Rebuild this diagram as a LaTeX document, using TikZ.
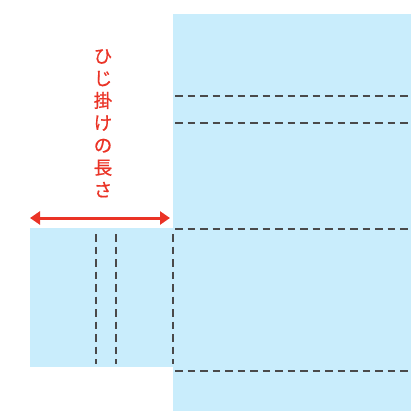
\documentclass[tikz,border=0pt]{standalone}
\usepackage{fontspec}
\newfontfamily\cjk[FakeBold=0.7]{Noto Sans CJK JP}
\usetikzlibrary{arrows.meta}
\definecolor{panel}{HTML}{C9EDFC}
\definecolor{dashc}{HTML}{4A4A4A}
\definecolor{redc}{HTML}{EA3326}
\tikzset{
  panelbox/.style={fill=panel, draw=none},
  fold/.style={draw=dashc, line width=1.4pt, dash pattern=on 7.5pt off 5pt},
  measure/.style={draw=redc, line width=3pt, {Triangle[length=10pt,width=13pt]}-{Triangle[length=10pt,width=13pt]}},
}
\begin{document}
\begin{tikzpicture}[x=1pt,y=-1pt]
\useasboundingbox (0,0) rectangle (411,411);
\path[panelbox] (173,14) rectangle (411,411);
\path[panelbox] (30,228) rectangle (173,367);
\coordinate (h1a) at (175,96);  \coordinate (h1b) at (409,96);
\coordinate (h2a) at (175,123); \coordinate (h2b) at (409,123);
\coordinate (h3a) at (175,229); \coordinate (h3b) at (409,229);
\coordinate (h4a) at (175,371); \coordinate (h4b) at (409,371);
\coordinate (v1a) at (96,234);  \coordinate (v1b) at (96,364);
\coordinate (v2a) at (116,234); \coordinate (v2b) at (116,364);
\coordinate (v3a) at (173,234); \coordinate (v3b) at (173,364);
\draw[fold] (h1a) -- (h1b);
\draw[fold] (h2a) -- (h2b);
\draw[fold] (h3a) -- (h3b);
\draw[fold] (h4a) -- (h4b);
\draw[fold] (v1a) -- (v1b);
\draw[fold] (v2a) -- (v2b);
\draw[fold] (v3a) -- (v3b);
\coordinate (ma) at (30,218);
\coordinate (mb) at (170,218);
\draw[measure] (ma) -- (mb);
\node[text=redc, font=\cjk\fontsize{18.5}{22.3}\selectfont, align=center, inner sep=0pt, anchor=north] (label) at (103,49) {ひ\\じ\\掛\\け\\の\\長\\さ};
\end{tikzpicture}
\end{document}
